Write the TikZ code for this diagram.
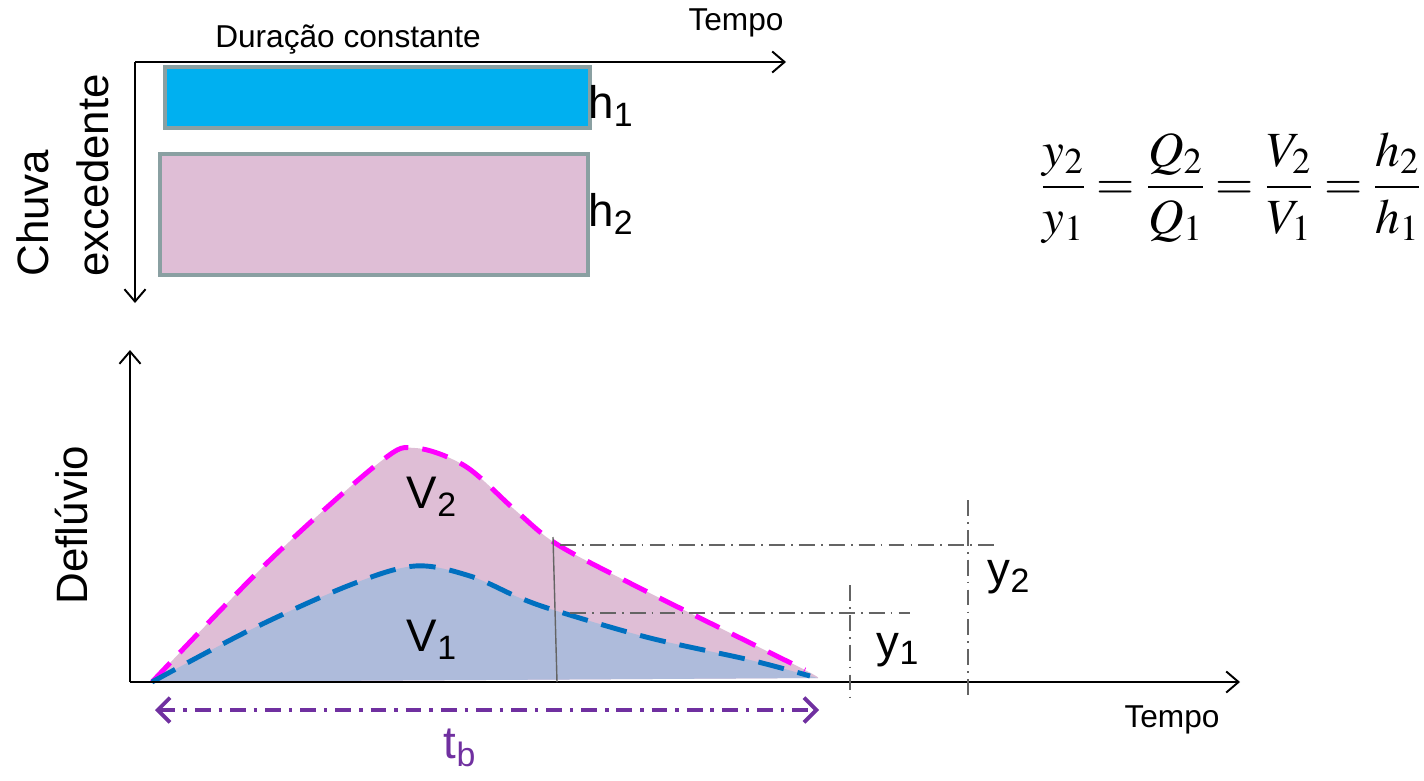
\documentclass[tikz,border=0pt]{standalone}
\usepackage{mathptmx}
\usepackage[no-math]{fontspec}
\newfontfamily\arialf{Liberation Sans}
\usetikzlibrary{arrows.meta, positioning}
\definecolor{rainblue}{RGB}{0,176,240}
\definecolor{rainpink}{RGB}{223,190,214}
\definecolor{boxedge}{RGB}{138,160,162}
\definecolor{flowmag}{RGB}{255,0,255}
\definecolor{flowblue}{RGB}{0,112,192}
\definecolor{areablue}{RGB}{174,187,219}
\definecolor{tbpurple}{RGB}{112,48,160}
\definecolor{guidegray}{RGB}{100,100,100}
\tikzset{
  axis/.style={-{Straight Barb[length=7pt,width=12pt]}, line width=1.1pt},
  rainbox/.style={draw=boxedge, line width=2.4pt},
  small/.style={font=\arialf\fontsize{18}{21}\selectfont, inner sep=0pt},
  big/.style={font=\arialf\fontsize{26}{30}\selectfont, inner sep=0pt},
  vlab/.style={font=\arialf\fontsize{25}{34}\selectfont, rotate=90, align=left, inner sep=0pt},
  magdash/.style={draw=flowmag, line width=2.8pt, dash pattern=on 15pt off 8pt},
  bluedash/.style={draw=flowblue, line width=2.8pt, dash pattern=on 15pt off 8pt},
  guide/.style={draw=guidegray, line width=0.8pt, dash pattern=on 9pt off 3.5pt on 1pt off 3.5pt},
  tbline/.style={{Straight Barb[length=7pt,width=14pt]}-{Straight Barb[length=7pt,width=14pt]},
    draw=tbpurple, line width=2.2pt, dash pattern=on 9pt off 4.5pt on 2pt off 4.5pt},
}
\begin{document}
\begin{tikzpicture}[x=0.02cm, y=-0.02cm]
  \useasboundingbox (0,0) rectangle (1424,781);
  % rainfall excess
  \node[rainbox, fill=rainblue, minimum width=425*0.02cm, minimum height=61*0.02cm,
    anchor=north west] (r1) at (163,65) {};
  \node[rainbox, fill=rainpink, minimum width=428*0.02cm, minimum height=121*0.02cm,
    anchor=north west] (r2) at (158,152) {};
  \node[big, anchor=west] (h1) at (588,106) {h\textsubscript{1}};
  \node[big, anchor=west] (h2) at (588,214) {h\textsubscript{2}};
  \coordinate (o1) at (135,62);
  \coordinate (tx) at (786,62);
  \coordinate (ty) at (135,303);
  \draw[axis] (o1) -- (tx);
  \draw[axis] (o1) -- (ty);
  \node[small] (dur) at (348,40) {Duração constante};
  \node[small] (t1) at (736,23) {Tempo};
  \node[vlab, anchor=south west] (chuva) at (109,277) {Chuva\\excedente};

  % hydrographs
  \path[fill=rainpink] plot[smooth, tension=0.55] coordinates {(152,682) (270,560) (380,462)
    (415,448) (465,466) (515,510) (555,543) (620,578) (710,623) (805,670) (818,678)} -- cycle;
  \path[fill=areablue] plot[smooth, tension=0.55] coordinates {(152,682) (250,630) (350,585)
    (415,566) (470,576) (520,598) (560,612) (650,638) (750,660) (810,676) (818,678)} -- cycle;
  \draw[magdash] plot[smooth, tension=0.55] coordinates {(152,682) (270,560) (380,462)
    (415,448) (465,466) (515,510) (555,543) (620,578) (710,623) (805,670)};
  \draw[bluedash] plot[smooth, tension=0.55] coordinates {(152,682) (250,630) (350,585)
    (415,566) (470,576) (520,598) (560,612) (650,638) (750,660) (810,676)};
  \node[big] (v2) at (432,497) {V\textsubscript{2}};
  \node[big] (v1) at (432,640) {V\textsubscript{1}};

  \coordinate (o2) at (130,682);
  \coordinate (qx) at (1240,682);
  \coordinate (qy) at (130,350);
  \draw[axis] (o2) -- (qx);
  \draw[axis] (o2) -- (qy);
  \node[vlab, anchor=center] (defl) at (72,525) {Deflúvio};
  \node[small] (t2) at (1172,720) {Tempo};

  % peaks ratio guides
  \coordinate (cut1) at (553,537);
  \coordinate (cut0) at (557,682);
  \draw[guidegray, line width=0.8pt] (cut1) -- (cut0);
  \coordinate (g2a) at (560,545);
  \coordinate (g2b) at (995,545);
  \coordinate (g1a) at (570,613);
  \coordinate (g1b) at (910,613);
  \coordinate (g3a) at (850,585);
  \coordinate (g3b) at (850,700);
  \coordinate (g4a) at (968,500);
  \coordinate (g4b) at (968,700);
  \draw[guide] (g2a) -- (g2b);
  \draw[guide] (g1a) -- (g1b);
  \draw[guide] (g3a) -- (g3b);
  \draw[guide] (g4a) -- (g4b);
  \node[big] (y1) at (898,650) {y\textsubscript{1}};
  \node[big] (y2) at (1009,577) {y\textsubscript{2}};

  % base time
  \coordinate (tb0) at (155,710);
  \coordinate (tb1) at (819,710);
  \draw[tbline] (tb0) -- (tb1);
  \node[big, text=tbpurple] (tb) at (460,748) {t\textsubscript{b}};

  \node[font=\fontsize{28}{34}\selectfont, inner sep=0pt] (eq) at (1231,188)
    {$\displaystyle\frac{y_2}{y_1}=\frac{Q_2}{Q_1}=\frac{V_2}{V_1}=\frac{h_2}{h_1}$};
\end{tikzpicture}
\end{document}
